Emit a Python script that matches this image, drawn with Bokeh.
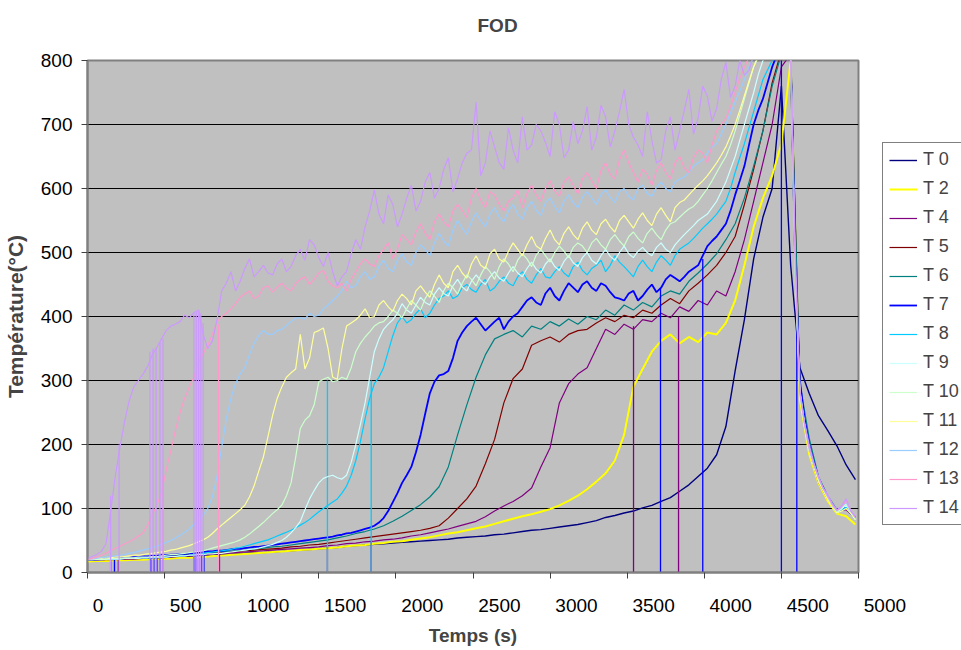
from bokeh.plotting import figure
from bokeh.models import Range1d, FixedTicker, Legend, LegendItem
from bokeh.embed import file_html
from bokeh.resources import INLINE

# ---------------- data ----------------
TIME = list(range(0, 4981, 60))      # sample times (s)
TIME_MID = list(range(30, 4951, 60))  # intermediate samples of the noisier probes

T0 = [18,19,20,20,21,21,22,22,23,24, 25,25,26,27,28,28,29,30,31,31,
      32,33,34,35,36,37,38,39,41,42, 43,44,45,46,47,48,49,50,51,52,
      54,55,56,57,59,60,62,64,66,67, 69,71,73,75,78,81,86,89,93,96,
      101,105,111,117,127,137,150,163,184,228, 315,395,490,555,600,760,480,320,280,245,
      222,198,168,145]
T2 = [17,18,18,19,19,20,20,21,21,22, 23,23,24,25,26,27,28,29,30,31,
      32,33,34,35,36,37,38,39,41,42, 43,45,46,48,49,51,53,55,58,61,
      63,66,69,72,76,80,84,88,91,95, 99,105,112,120,130,142,155,175,215,290,
      318,345,362,372,358,368,360,375,372,390, 425,480,540,585,620,670,800,270,185,140,
      112,92,88,75]
T4 = [19,19,20,20,21,21,22,23,23,24, 25,26,27,28,29,30,31,32,33,34,
      35,36,37,38,39,40,42,43,45,46, 48,49,51,52,54,57,59,62,65,68,
      72,76,80,87,96,104,111,120,132,165, 195,265,295,310,320,350,380,372,388,380,
      395,392,405,398,415,408,425,418,440,432, 470,520,580,640,700,790,810,290,195,145,
      118,96,98,85]
T5 = [20,20,21,21,22,22,23,24,25,26, 27,28,29,30,31,32,33,34,35,36,
      37,38,40,41,43,44,46,48,50,52, 54,56,58,60,62,64,66,69,73,85,
      100,115,135,170,208,265,303,318,355,362, 368,360,372,378,380,390,398,392,402,398,
      410,405,418,428,420,440,452,465,480,500, 525,575,630,690,765,815,810,280,190,142,
      115,95,100,84]
T6 = [20,21,21,22,22,23,24,25,26,27, 28,29,30,31,32,33,34,35,37,38,
      40,41,43,45,47,49,51,54,57,61, 64,68,73,80,88,97,106,118,134,165,
      215,262,305,340,365,372,378,368,385,380, 392,385,396,388,400,395,410,402,418,410,
      422,415,432,440,435,455,468,482,498,520, 545,585,635,690,760,810,815,295,210,150,
      120,98,102,86]
T7 = [20,21,22,22,23,24,25,26,27,28, 29,30,31,33,34,35,37,38,40,41,
      43,45,47,49,51,53,55,58,61,64, 68,73,85,110,140,165,215,280,308,315,
      362,385,398,378,392,380,400,415,430,418, 445,425,452,438,455,440,448,430,425,440,
      432,450,445,465,455,470,480,510,525,545, 590,635,700,740,790,820,810,300,200,148,
      118,95,104,85]
T7_MID = [20,21,22,23,23,24,25,26,27,28, 29,30,32,33,34,36,37,39,40,42,
          44,46,48,50,52,54,56,59,62,66, 70,78,96,124,152,188,248,298,310,335,
          375,392,388,385,398,392,405,425,422,436, 432,440,445,450,445,452,438,428,436,425,
          442,438,458,460,462,475,495,518,535,565, 612,668,722,765,808,815,480,240,172,132,
          105,100,95]
T8 = [20,20,21,21,22,22,23,23,24,25, 26,27,29,31,33,35,38,41,45,49,
      54,60,66,74,83,95,105,115,135,175, 240,295,320,370,400,395,412,405,428,440,
      432,450,438,458,445,462,448,470,452,475, 460,478,462,485,465,480,470,495,478,462,
      488,470,495,480,505,515,530,545,560,580, 625,670,720,770,800,820,815,285,195,145,
      116,93,102,82]
T8_MID = [20,20,21,21,22,22,23,23,24,25, 26,28,30,32,34,36,39,43,47,51,
          57,63,70,78,89,100,110,124,152,205, 272,305,345,390,390,405,398,418,432,428,
          445,442,450,440,455,452,462,458,465,462, 470,468,478,472,475,488,480,485,470,478,
          478,485,488,495,510,522,538,552,570,600, 648,695,745,785,812,818,470,235,170,130,
          104,97,92]
T9 = [20,20,21,21,22,22,23,24,24,25, 26,27,28,29,30,31,33,35,37,40,
      44,50,62,80,115,140,150,148,152,200, 265,345,380,395,420,405,430,418,445,432,
      458,440,465,450,470,455,478,462,485,468, 490,472,495,478,500,482,505,488,510,492,
      508,495,515,500,520,535,550,560,580,610, 650,700,750,800,815,820,815,280,192,146,
      117,94,105,83]
T9_MID = [20,20,21,21,22,22,23,24,24,25, 26,27,28,29,30,32,34,36,38,42,
          47,55,70,98,128,147,152,146,172,232, 305,365,388,405,410,418,422,435,436,448,
          446,455,456,462,460,468,468,475,474,482, 478,486,484,492,488,495,494,500,498,502,
          500,508,505,512,528,542,555,570,595,630, 675,725,778,808,818,818,470,230,168,131,
          105,99,94]
T10 = [20,21,21,22,23,23,24,25,26,28, 29,31,33,36,40,44,48,55,66,78,
       92,105,140,225,245,298,305,300,302,345, 368,385,392,410,398,425,410,440,422,452,
       435,465,448,478,458,490,470,498,478,505, 485,510,492,515,500,522,505,528,510,532,
       515,538,520,545,555,568,580,600,625,650, 690,740,790,815,820,820,815,282,190,145,
       116,95,108,84]
T10_MID = [20,21,22,22,23,24,24,25,27,28, 30,32,34,38,42,46,51,60,72,85,
           98,120,180,238,262,302,298,305,320,358, 376,390,400,405,412,418,428,432,440,445,
           452,458,465,470,478,482,488,490,496,495, 500,502,508,510,515,512,520,518,525,522,
           530,528,535,548,562,572,590,612,638,668, 715,765,805,818,822,818,470,232,168,130,
           105,100,95]
T11 = [21,22,23,24,25,27,28,30,32,35, 38,42,48,55,68,80,92,105,135,180,
       245,290,312,372,335,378,350,302,385,395, 412,400,425,408,435,418,448,430,465,445,
       480,460,495,475,505,485,515,495,525,505, 535,512,540,520,548,528,552,532,558,538,
       562,542,570,548,578,590,605,620,640,665, 700,745,790,820,825,820,815,275,188,142,
       114,93,100,82]
T11_MID = [21,22,23,24,26,27,29,31,33,36, 40,45,51,61,74,86,98,118,158,212,
           272,305,318,318,375,382,305,350,390,402, 398,418,415,425,428,440,438,450,452,470,
           468,482,480,498,490,502,505,512,510,522, 520,530,528,538,535,545,540,550,548,552,
           550,560,558,570,582,598,612,630,652,682, 722,768,808,825,822,818,460,228,165,128,
           103,96,92]
T12 = [21,22,24,26,28,31,35,39,44,50, 58,68,82,100,150,240,295,320,358,378,
       372,380,392,398,405,402,418,432,455,448, 470,462,488,470,498,480,512,495,530,510,
       550,528,562,540,570,548,575,552,580,558, 585,562,590,570,595,575,598,578,600,582,
       605,588,610,595,615,625,640,655,670,700, 735,770,805,820,825,825,815,278,192,148,
       118,96,110,85]
T12_MID = [21,23,25,27,30,33,37,41,47,54, 63,75,90,118,195,272,310,340,370,372,
           378,386,398,396,400,412,425,440,445,462, 458,478,475,488,485,500,505,515,518,535,
           538,548,550,560,556,565,560,570,566,578, 572,580,578,586,585,590,586,595,588,600,
           592,602,600,610,618,635,645,665,685,718, 752,790,815,825,828,822,470,230,168,131,
           105,102,96]
T13 = [20,24,30,38,45,52,62,90,125,190, 250,290,328,355,392,405,420,435,428,445,
       438,452,440,458,450,468,455,445,440,470, 490,478,505,490,528,512,545,520,560,540,
       575,555,600,570,590,565,585,570,605,580, 612,588,618,592,625,600,640,615,660,625,
       630,605,640,615,650,625,660,640,690,710, 750,790,815,825,825,825,815,282,195,150,
       120,97,112,86]
T13_MID = [22,27,34,41,48,57,74,105,160,222, 272,305,342,372,400,412,430,440,432,448,
           446,444,452,462,458,472,448,452,458,482, 482,495,515,505,520,532,530,548,548,565,
           566,585,582,595,575,580,598,592,590,600, 596,610,605,615,612,628,622,645,640,610,
           622,628,625,640,632,648,655,668,700,728, 772,805,820,830,830,822,480,232,170,133,
           106,103,97]
T14 = [22,28,45,150,235,290,310,340,365,385, 392,398,410,350,395,452,440,475,462,480,
       465,490,478,505,520,492,500,448,470,520, 540,598,545,575,560,605,580,625,600,648,
       615,655,735,640,665,630,660,712,668,690, 650,700,660,670,728,680,712,690,755,680,
       650,675,645,712,690,755,710,744,725,797, 760,777,810,820,830,830,820,285,200,150,
       122,98,115,88]
T14_MID = [25,33,95,195,268,300,322,352,378,388, 402,406,372,362,440,470,455,490,470,468,
           482,470,495,488,512,478,470,462,498,505, 565,560,590,540,585,565,610,585,630,595,
           640,660,620,690,640,695,640,660,700,672, 720,648,705,690,660,730,665,720,700,668,
           720,640,690,660,722,685,760,705,770,742, 800,785,830,815,840,835,500,235,172,132,
           108,104,96]

NAMES = ["T 0", "T 2", "T 4", "T 5", "T 6", "T 7", "T 8", "T 9",
         "T 10", "T 11", "T 12", "T 13", "T 14"]
VALUES = [T0, T2, T4, T5, T6, T7, T8, T9, T10, T11, T12, T13, T14]
MIDS = [None, None, None, None, None, T7_MID, T8_MID, T9_MID,
        T10_MID, T11_MID, T12_MID, T13_MID, T14_MID]
COLORS = ["#000080", "#FFFF00", "#800080", "#800000", "#008080", "#0000FF", "#00CCFF",
          "#CCFFFF", "#CCFFCC", "#FFFF99", "#99CCFF", "#FF99CC", "#CC99FF"]
WIDTHS = [1.4, 2.0, 1.2, 1.2, 1.2, 1.8, 1.2, 1.2, 1.2, 1.2, 1.2, 1.2, 1.2]

# sensor dropouts (reading falls to 0)
DROP_NAME = ["T 14"] * 12 + ["T 13"] * 2 + ["T 7"] * 16 + ["T 4"] * 6 + ["T 8"] * 2
DROP_TIME = [150, 205, 405, 425, 445, 470, 490, 690, 705, 720, 735, 750,
             490, 850,
             150, 175, 410, 430, 450, 470, 490, 690, 705, 720, 740, 755, 3716, 3990, 4500, 4600,
             200, 856, 1556, 1840, 3541, 3833,
             1556, 1840]
DROP_TOP = [120, 200, 345, 350, 352, 360, 365, 405, 408, 410, 405, 390,
            150, 388,
            24, 24, 27, 27, 27, 27, 27, 31, 31, 31, 31, 31, 445, 490, 820, 420,
            22, 29, 42, 48, 385, 400,
            300, 300]

X_TICKS = [0, 500, 1000, 1500, 2000, 2500, 3000, 3500, 4000, 4500, 5000]
X_LABELS = ["0", "500", "1000", "1500", "2000", "2500", "3000", "3500", "4000", "4500", "5000"]
Y_TICKS = [0, 100, 200, 300, 400, 500, 600, 700, 800]


def merge(main, mid):
    """Put the intermediate samples between the regular ones (time order)."""
    if mid is None:
        return TIME, main
    xs, ys = [], []
    for k in range(len(mid)):
        xs += [TIME[k], TIME_MID[k]]
        ys += [main[k], mid[k]]
    xs.append(TIME[-1])
    ys.append(main[-1])
    return xs, ys


# ---------------- figure ----------------
FONT = "Liberation Sans"

p = figure(frame_width=771, frame_height=512,
           x_range=Range1d(0, 5000), y_range=Range1d(0, 800),
           output_backend="svg", toolbar_location=None, title="FOD\n",
           min_border_left=87, min_border_right=103, min_border_top=60, min_border_bottom=78,
           background_fill_color="#C0C0C0", border_fill_color="white",
           outline_line_color="#808080", outline_line_width=2)

p.title.text_font = FONT
p.title.text_font_size = "19px"
p.title.text_font_style = "bold"
p.title.align = "left"
p.title.offset = 390
p.title.vertical_align = "top"
p.title.standoff = 4

p.xgrid.grid_line_color = None
p.ygrid.ticker = FixedTicker(ticks=Y_TICKS)
p.ygrid.grid_line_color = "black"
p.ygrid.grid_line_width = 1

ya = p.yaxis[0]
ya.ticker = FixedTicker(ticks=Y_TICKS)
ya.axis_label = "Température(°C)"
ya.axis_label_text_font = FONT
ya.axis_label_text_font_size = "21px"
ya.axis_label_text_font_style = "bold"
ya.axis_label_standoff = 11
ya.major_label_text_font = FONT
ya.major_label_text_font_size = "19px"
ya.major_label_text_color = "black"
ya.major_label_standoff = 9
ya.major_tick_in = 0
ya.major_tick_out = 6
ya.major_tick_line_color = "#404040"
ya.minor_tick_line_color = None
ya.axis_line_color = "#808080"
ya.axis_line_width = 2

# Excel writes the category labels left-aligned just right of each tick mark;
# pad each centred label with no-break spaces to reproduce that placement.
PAD = {1: 4, 3: 8, 4: 10}
xa = p.xaxis[0]
xa.ticker = FixedTicker(ticks=X_TICKS)
xa.major_label_overrides = {t: "\u00a0" * PAD[len(s)] + s for t, s in zip(X_TICKS, X_LABELS)}
xa.major_label_text_font = FONT
xa.major_label_text_font_size = "19px"
xa.major_label_text_color = "black"
xa.major_label_standoff = 16
xa.axis_label = "Temps (s)"
xa.axis_label_text_font = FONT
xa.axis_label_text_font_size = "19px"
xa.axis_label_text_font_style = "bold"
xa.axis_label_standoff = 6
xa.major_tick_in = 0
xa.major_tick_out = 6
xa.major_tick_line_color = "#404040"
xa.minor_tick_line_color = None
xa.axis_line_color = "#808080"
xa.axis_line_width = 2

items = []
for name, vals, mid, col, lw in zip(NAMES, VALUES, MIDS, COLORS, WIDTHS):
    xs, ys = merge(vals, mid)
    r = p.line(xs, ys, line_color=col, line_width=lw)
    dt = [t for n, t in zip(DROP_NAME, DROP_TIME) if n == name]
    dtop = [v for n, v in zip(DROP_NAME, DROP_TOP) if n == name]
    if dt:
        p.segment(x0=dt, y0=dtop, x1=dt, y1=[0] * len(dt), line_color=col, line_width=1.3)
    items.append(LegendItem(label=name, renderers=[r]))

legend = Legend(items=items, location=(24, 47), label_text_font=FONT,
                label_text_font_size="18px", glyph_width=28, glyph_height=20,
                label_height=20, spacing=8, padding=6, label_standoff=6,
                border_line_color="black", border_line_width=1,
                background_fill_color="white", background_fill_alpha=1, margin=0)
p.add_layout(legend, "right")

open("out.html", "w").write(file_html(p, INLINE))
